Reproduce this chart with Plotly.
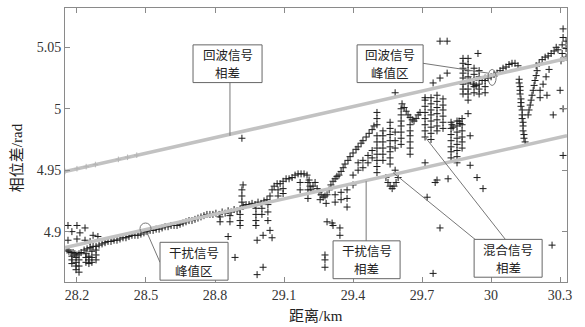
import plotly.graph_objects as go

# ---------------- data ----------------
x_ticks = [28.2, 28.5, 28.8, 29.1, 29.4, 29.7, 30.0, 30.3]
x_tick_labels = ["28.2", "28.5", "28.8", "29.1", "29.4", "29.7", "30", "30.3"]
y_ticks = [4.9, 4.95, 5.0, 5.05]
y_tick_labels = ["4.9", "4.95", "5", "5.05"]

# echo-signal phase difference (upper gray line)
echo_x = [28.148, 28.20, 28.24, 28.28, 28.38, 28.42, 28.46, 30.33]
echo_y = [4.949, 4.9512, 4.9529, 4.9546, 4.9588, 4.9605, 4.9622, 5.041]
# interference-signal phase difference (lower gray line)
jam_x = [28.148, 30.33]
jam_y = [4.887, 4.978]

# mixed-signal phase difference: dense trace
curve_x = [28.157, 28.165, 28.174, 28.183, 28.191, 28.200, 28.209, 28.218, 28.231, 28.244,
           28.257, 28.270, 28.283, 28.296, 28.309, 28.322, 28.335, 28.348, 28.361, 28.374,
           28.387, 28.400, 28.413, 28.426, 28.439, 28.452, 28.465, 28.478, 28.491, 28.505,
           28.518, 28.531, 28.544, 28.557, 28.570, 28.583, 28.596, 28.609, 28.622, 28.635,
           28.648, 28.661, 28.674, 28.687, 28.700, 28.713, 28.726, 28.739, 28.752, 28.765,
           28.778, 28.791, 28.804,
           28.818, 28.831, 28.844, 28.857, 28.870, 28.883, 28.896, 28.909, 28.922, 28.935,
           28.948, 28.961, 28.974, 28.987, 29.000, 29.013, 29.026, 29.039, 29.048, 29.057,
           29.070, 29.083, 29.096, 29.109, 29.122, 29.135, 29.148, 29.161, 29.174, 29.187,
           29.200, 29.209, 29.213, 29.217, 29.226, 29.235, 29.244, 29.252, 29.261, 29.270,
           29.278, 29.287, 29.296, 29.304, 29.313, 29.322, 29.330,
           29.339, 29.348, 29.357, 29.365, 29.378, 29.387, 29.400, 29.413, 29.422, 29.435,
           29.443, 29.457, 29.470, 29.483, 29.491,
           29.543, 29.552, 29.561, 29.570, 29.578, 29.587, 29.596,
           29.613, 29.622, 29.631, 29.639, 29.648, 29.657, 29.665, 29.674, 29.683, 29.691,
           29.909, 29.922, 29.935, 29.948, 29.961, 29.974, 29.987, 30.000, 30.013, 30.026,
           30.039, 30.052, 30.065, 30.078, 30.091, 30.104, 30.117,
           30.196, 30.209, 30.222, 30.235, 30.248, 30.261, 30.274, 30.283, 30.291]
curve_y = [4.885, 4.884, 4.883, 4.883, 4.882, 4.881, 4.882, 4.883, 4.885, 4.886,
           4.887, 4.888, 4.888, 4.889, 4.890, 4.891, 4.892, 4.892, 4.893, 4.893,
           4.894, 4.895, 4.895, 4.896, 4.897, 4.897, 4.897, 4.898, 4.899, 4.900,
           4.901, 4.901, 4.902, 4.902, 4.903, 4.904, 4.904, 4.905, 4.905, 4.905,
           4.906, 4.907, 4.908, 4.909, 4.909, 4.910, 4.911, 4.912, 4.913, 4.914,
           4.914, 4.914, 4.915,
           4.914, 4.916, 4.915, 4.917, 4.916, 4.918, 4.917, 4.918, 4.921, 4.922,
           4.922, 4.923, 4.922, 4.924, 4.923, 4.925, 4.926, 4.929, 4.934, 4.937,
           4.939, 4.939, 4.941, 4.943, 4.943, 4.944, 4.946, 4.947, 4.947, 4.947,
           4.946, 4.942, 4.937, 4.934, 4.937, 4.940, 4.935, 4.932, 4.930, 4.928,
           4.929, 4.930, 4.934, 4.938, 4.941, 4.943, 4.945,
           4.946, 4.949, 4.952, 4.955, 4.958, 4.961, 4.964, 4.967, 4.969, 4.972,
           4.974, 4.977, 4.980, 4.983, 4.986,
           4.944, 4.940, 4.937, 4.935, 4.937, 4.940, 4.944,
           5.004, 5.001, 4.998, 4.995, 4.993, 4.991, 4.990, 4.992, 4.995, 4.997,
           5.023, 5.020, 5.019, 5.020, 5.023, 5.025, 5.025, 5.026, 5.028, 5.029,
           5.031, 5.033, 5.034, 5.036, 5.037, 5.037, 5.035,
           5.035, 5.037, 5.040, 5.042, 5.043, 5.045, 5.047, 5.050, 5.048]

# mixed-signal phase difference: vertical stripes of samples
stripe_x = [
    # left spikes near 28.2
    28.178, 28.178, 28.178, 28.196, 28.196, 28.196, 28.196, 28.209, 28.209, 28.209,
    28.239, 28.239, 28.239, 28.252, 28.252, 28.252, 28.265, 28.265, 28.265,
    28.283, 28.283, 28.283,
    # below the wavy band 28.8-29.3
    28.822, 28.822, 28.865, 28.865, 28.909, 28.909, 28.909, 28.917, 28.917, 28.917,
    28.978, 28.978, 28.978, 28.978, 29.004, 29.004, 29.030, 29.030, 29.074, 29.074,
    29.096, 29.096, 29.170, 29.170, 29.204, 29.204, 29.204, 29.257, 29.283,
    # under the rising part 29.3-29.5
    29.322, 29.322, 29.348, 29.348, 29.374, 29.374, 29.400, 29.400, 29.422, 29.422,
    29.443, 29.443, 29.465, 29.465, 29.483, 29.483,
    # columns 29.5-29.65
    29.504, 29.504, 29.504, 29.504, 29.504, 29.504, 29.504, 29.504, 29.504, 29.504,
    29.530, 29.530, 29.530, 29.530, 29.530, 29.530,
    29.561, 29.561, 29.561, 29.561, 29.561, 29.561, 29.561, 29.561,
    29.609, 29.609, 29.609, 29.609, 29.609, 29.609, 29.609,
    29.648, 29.648, 29.648, 29.648, 29.648, 29.648,
    29.583, 29.583, 29.583, 29.583,
    # columns right of the U 29.71-29.79
    29.713, 29.713, 29.713, 29.713, 29.713, 29.713, 29.713,
    29.739, 29.739, 29.739, 29.739, 29.739, 29.739, 29.739, 29.739,
    29.765, 29.765, 29.765, 29.765, 29.765, 29.765, 29.765,
    29.791, 29.791, 29.791, 29.791, 29.791, 29.791,
    # cluster 29.82-29.87
    29.826, 29.826, 29.826, 29.826, 29.826, 29.826, 29.826,
    29.852, 29.852, 29.852, 29.852, 29.852, 29.852, 29.852, 29.852,
    29.874, 29.874, 29.874, 29.874, 29.874, 29.874,
    29.830, 29.835, 29.861, 29.865,
    # columns 29.88-29.97
    29.878, 29.878, 29.878, 29.878, 29.878, 29.878, 29.878, 29.878,
    29.900, 29.900, 29.900, 29.900, 29.900, 29.900, 29.900, 29.900,
    29.926, 29.926, 29.926, 29.926, 29.926,
    29.948, 29.948, 29.948, 29.948,
    29.974, 29.974, 29.974,
    # dip near 30.13
    30.122, 30.122, 30.126, 30.126, 30.126, 30.130, 30.130, 30.130, 30.135, 30.135,
    30.135, 30.139, 30.139, 30.139, 30.143, 30.143, 30.148,
    30.161, 30.165, 30.170, 30.174, 30.178, 30.183, 30.187, 30.191, 30.196, 30.200,
    30.213, 30.226, 30.239, 30.252,
    # top right edge
    30.304, 30.309, 30.309, 30.313, 30.313, 30.326, 30.326, 30.326]
stripe_y = [
    4.880, 4.877, 4.874, 4.879, 4.875, 4.872, 4.869, 4.877, 4.872, 4.867,
    4.882, 4.879, 4.875, 4.880, 4.877, 4.874, 4.884, 4.879, 4.875,
    4.885, 4.881, 4.877,
    4.912, 4.908, 4.913, 4.908, 4.914, 4.909, 4.905, 4.934, 4.929, 4.924,
    4.919, 4.914, 4.909, 4.905, 4.919, 4.914, 4.922, 4.916, 4.934, 4.929,
    4.935, 4.931, 4.940, 4.934, 4.940, 4.934, 4.927, 4.926, 4.923,
    4.930, 4.924, 4.932, 4.926, 4.934, 4.927, 4.938, 4.946, 4.950, 4.956,
    4.958, 4.952, 4.962, 4.956, 4.966, 4.960,
    4.997, 4.992, 4.987, 4.978, 4.973, 4.968, 4.963, 4.958, 4.953, 4.948,
    4.982, 4.978, 4.973, 4.968, 4.963, 4.958,
    4.989, 4.984, 4.979, 4.974, 4.969, 4.965, 4.960, 4.955,
    5.000, 4.995, 4.990, 4.986, 4.981, 4.976, 4.971,
    4.987, 4.982, 4.978, 4.973, 4.968, 4.963,
    4.981, 4.974, 4.968, 4.950,
    5.007, 5.002, 4.997, 4.992, 4.987, 4.982, 4.977,
    5.009, 5.004, 4.999, 4.995, 4.990, 4.985, 4.980, 4.975,
    5.011, 5.006, 5.001, 4.996, 4.991, 4.986, 4.982,
    5.008, 5.003, 4.999, 4.994, 4.989, 4.984,
    4.989, 4.984, 4.979, 4.974, 4.969, 4.965, 4.960,
    4.990, 4.986, 4.981, 4.976, 4.971, 4.966, 4.961, 4.956,
    4.992, 4.987, 4.982, 4.977, 4.973, 4.968,
    4.987, 4.985, 4.990, 4.988,
    5.041, 5.037, 5.033, 5.029, 5.025, 5.020, 5.016, 5.012,
    5.041, 5.036, 5.031, 5.026, 5.021, 5.016, 5.012, 5.007,
    5.033, 5.028, 5.023, 5.018, 5.013,
    5.031, 5.026, 5.016, 5.012,
    5.023, 5.018, 5.013,
    5.024, 5.021, 5.018, 5.015, 5.012, 5.008, 5.005, 5.002, 4.999, 4.995,
    4.992, 4.989, 4.986, 4.982, 4.979, 4.976, 4.973,
    4.995, 4.999, 5.003, 5.007, 5.011, 5.015, 5.019, 5.023, 5.027, 5.031,
    5.015, 5.020, 5.026, 5.032,
    5.039, 5.045, 5.052, 5.058, 5.065, 5.055, 5.049, 5.042]

# mixed-signal phase difference: isolated outliers
outlier_x = [28.161, 28.200, 28.235, 28.270, 28.161, 28.200, 28.235, 28.178, 28.213, 28.257, 28.291,
             28.857, 28.887, 28.922, 28.983, 29.009, 29.039, 29.048, 29.009, 28.983, 29.030,
             29.287, 29.313, 29.343, 29.343, 29.278, 29.278, 29.278, 29.309, 29.374,
             29.722, 29.757, 29.813, 29.909, 29.939, 29.965, 29.778, 29.748, 30.265, 30.313,
             29.713, 29.765,
             28.917, 29.583, 29.778, 29.809, 29.943, 29.748, 29.778, 29.809, 29.713, 29.900,
             29.909, 30.243, 30.213, 30.270, 30.300, 30.313]
outlier_y = [4.905, 4.905, 4.903, 4.897, 4.893, 4.894, 4.893, 4.900, 4.899, 4.892, 4.896,
             4.896, 4.879, 4.938, 4.893, 4.897, 4.901, 4.895, 4.871, 4.865, 4.909,
             4.908, 4.905, 4.903, 4.897, 4.881, 4.877, 4.871, 4.907, 4.920,
             4.928, 4.940, 4.943, 4.954, 4.944, 4.935, 4.903, 4.866, 4.889, 4.962,
             4.956, 4.942,
             4.976, 5.013, 5.055, 5.055, 5.045, 5.021, 5.025, 5.029, 5.009, 4.996,
             4.978, 5.011, 5.009, 4.995, 5.015, 5.000]

# annotation labels: (box x0, x1, y0, y1, line-1 y, line-2 y, line-1 text, line-2 text)
labels = [
    (28.7045, 29.0045, 5.0213, 5.0520, 5.0439, 5.0294, "回波信号", "相差"),
    (29.4176, 29.7046, 5.0213, 5.0520, 5.0439, 5.0294, "回波信号", "峰值区"),
    (28.5610, 28.8567, 4.8605, 4.8913, 4.8832, 4.8686, "干扰信号", "峰值区"),
    (29.3132, 29.6045, 4.8617, 4.8925, 4.8844, 4.8698, "干扰信号", "相差"),
    (29.9263, 30.2219, 4.8629, 4.8937, 4.8856, 4.8710, "混合信号", "相差"),
]

# ---------------- figure ----------------
CJK = "Noto Sans CJK SC"
SERIF = "Liberation Serif"
mark = dict(symbol="cross-thin", size=5, line=dict(width=1, color="#1a1a1a"), color="#1a1a1a")

fig = go.Figure()
for xs, ys in [(curve_x, curve_y), (stripe_x, stripe_y), (outlier_x, outlier_y)]:
    fig.add_trace(go.Scatter(x=xs, y=ys, mode="markers", marker=mark,
                             showlegend=False, hoverinfo="skip"))

fig.add_trace(go.Scatter(x=echo_x, y=echo_y, mode="lines+markers",
                         line=dict(color="#c2c2c2", width=3.5),
                         marker=dict(symbol="cross-thin", size=4,
                                     line=dict(width=1, color="#b5b5b5")),
                         showlegend=False, hoverinfo="skip"))
fig.add_trace(go.Scatter(x=jam_x, y=jam_y, mode="lines",
                         line=dict(color="#c2c2c2", width=3.5),
                         showlegend=False, hoverinfo="skip"))

lead = dict(color="#777", width=1)
fig.add_shape(type="line", x0=28.865, y0=5.022, x1=28.865, y1=4.978, line=lead)
fig.add_shape(type="line", x0=29.704, y0=5.037, x1=29.987, y1=5.029, line=lead)
fig.add_shape(type="line", x0=28.505, y0=4.899, x1=28.561, y1=4.875, line=lead)
fig.add_shape(type="line", x0=29.457, y0=4.892, x1=29.457, y1=4.941, line=lead)
fig.add_shape(type="line", x0=29.574, y0=4.948, x1=29.935, y1=4.893, line=lead)
fig.add_shape(type="line", x0=29.713, y0=4.977, x1=30.065, y1=4.893, line=lead)
fig.add_shape(type="circle", x0=29.987, y0=5.019, x1=30.022, y1=5.032,
              line=dict(color="#777", width=1))
fig.add_shape(type="circle", x0=28.474, y0=4.898, x1=28.522, y1=4.907,
              line=dict(color="#777", width=1))

for bx0, bx1, by0, by1, ly1, ly2, t1, t2 in labels:
    fig.add_shape(type="rect", x0=bx0, x1=bx1, y0=by0, y1=by1, layer="above",
                  fillcolor="white", line=dict(color="#666", width=1))
    cx = (bx0 + bx1) / 2
    for ly, t in [(ly1, t1), (ly2, t2)]:
        fig.add_annotation(x=cx, y=ly, xref="x", yref="y", text=t, showarrow=False,
                           xanchor="center", yanchor="middle",
                           font=dict(family=CJK, size=12.5, color="#222"))

fig.add_annotation(x=0.5, y=-0.124, xref="paper", yref="paper", text="距离/km",
                   showarrow=False, yanchor="middle",
                   font=dict(family=f"{SERIF}, {CJK}", size=15, color="#222"))
fig.add_annotation(x=-0.094, y=0.455, xref="paper", yref="paper", text="相位差/rad",
                   showarrow=False, textangle=-90, xanchor="center", yanchor="middle",
                   font=dict(family=f"{SERIF}, {CJK}", size=15, color="#222"))

axis_common = dict(showgrid=False, zeroline=False, showline=True, linecolor="#8a8a8a",
                   linewidth=1, mirror="ticks", ticks="inside", ticklen=5,
                   tickcolor="#8a8a8a", tickfont=dict(family=SERIF, size=14, color="#333"))
fig.update_xaxes(range=[28.148, 30.33], tickvals=x_ticks, ticktext=x_tick_labels,
                 **axis_common)
fig.update_yaxes(range=[4.859, 5.082], tickvals=y_ticks, ticktext=y_tick_labels,
                 **axis_common)

fig.update_layout(width=585, height=327, margin=dict(l=65, r=18, t=8, b=45),
                  plot_bgcolor="white", paper_bgcolor="white", showlegend=False)

fig.write_html("out.html")
